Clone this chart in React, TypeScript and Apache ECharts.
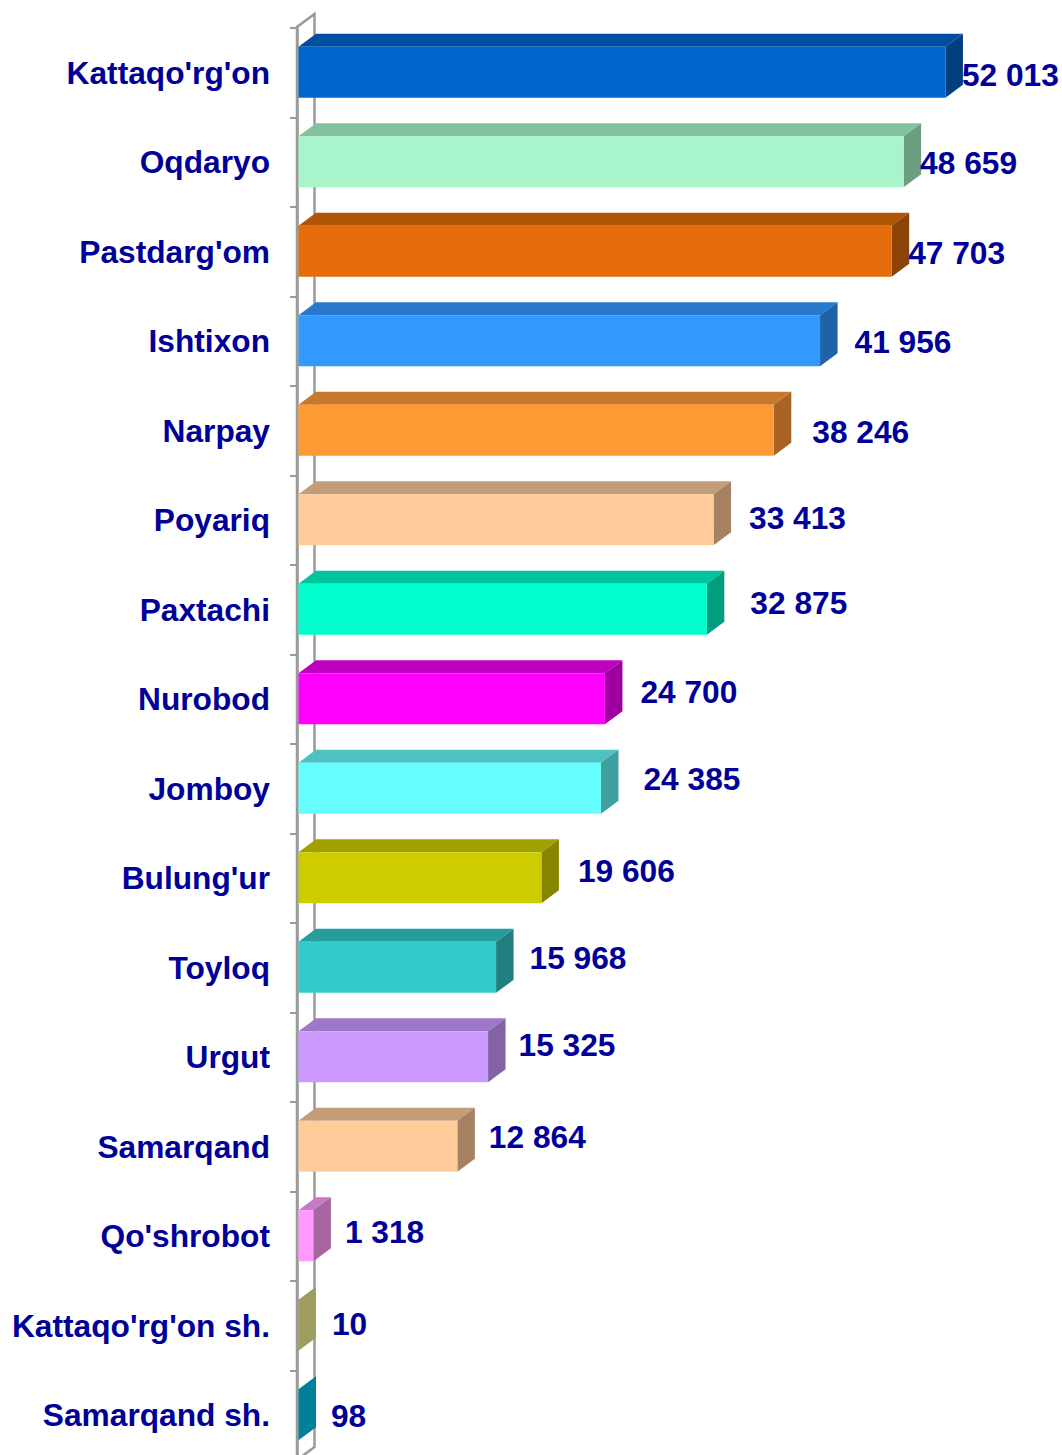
import React, { useEffect, useRef } from "react";
import * as echarts from "echarts";

const categories = [
  "Kattaqo'rg'on", "Oqdaryo", "Pastdarg'om", "Ishtixon", "Narpay", "Poyariq", "Paxtachi", "Nurobod",
  "Jomboy", "Bulung'ur", "Toyloq", "Urgut", "Samarqand", "Qo'shrobot", "Kattaqo'rg'on sh.", "Samarqand sh.",
];
const values = [52013, 48659, 47703, 41956, 38246, 33413, 32875, 24700, 24385, 19606, 15968, 15325, 12864, 1318, 10, 98];

const frontColors = [
  "#0066CC", "#A8F5CB", "#E46C0A", "#3399FF", "#FF9933", "#FFCC99", "#00FFCC", "#FF00FF",
  "#66FFFF", "#CCCC00", "#33CCCC", "#CC99FF", "#FFCC99", "#FF99FF", "#CCCC80", "#00A0C0",
];
const topColors = [
  "#004FA0", "#82C29E", "#B05508", "#2878CC", "#C8782A", "#C29D78", "#00C49E", "#C000C0",
  "#4EC2C2", "#A0A000", "#279C9C", "#9E78C8", "#C29D78", "#C878C8", "#A8A86C", "#008CA8",
];
const sideColors = [
  "#004080", "#6E9E80", "#8C4306", "#2062A8", "#A86424", "#A68262", "#009E7E", "#A000A0",
  "#40A0A0", "#858500", "#208080", "#8264A6", "#A68262", "#A866A0", "#9E9E60", "#00809A",
];
// per-label placement nudges [dx, dy] (layout only)
const labelNudge = [
  [-1, 2], [-1, 1], [-1, 1], [17, 1], [21, 1], [18, -2], [26, -7], [18, -7],
  [25, -10], [19, -7], [16, -10], [13, -12], [14, -10], [14, -4], [16, -2], [15, 1],
];

const GRID_LEFT = 297;
const GRID_TOP = 28;
const GRID_W = 748;
const GRID_H = 1432;
const DX = 17.5;
const DY = 13;
const TEXT_COLOR = "#000099";
const FONT = "Liberation Sans, Arial, sans-serif";
const FONT_SIZE = 31.7;

const fmt = (v: number) => String(v).replace(/\B(?=(\d{3})+(?!\d))/g, " ");

export default function App() {
  const ref = useRef<HTMLDivElement>(null);
  useEffect(() => {
    if (!ref.current) return;
    const chart = echarts.init(ref.current, null, { renderer: "svg" });
    chart.setOption({
      animation: false,
      backgroundColor: "#ffffff",
      grid: { left: GRID_LEFT, top: GRID_TOP, width: GRID_W, height: GRID_H, outerBoundsMode: "none" },
      xAxis: { type: "value", min: 0, max: 60000, show: false },
      yAxis: {
        type: "category",
        data: categories,
        inverse: true,
        axisLine: { show: true, lineStyle: { color: "#9A9A9A", width: 2.5 } },
        axisTick: { show: true, length: 7, lineStyle: { color: "#9A9A9A", width: 2 } },
        axisLabel: {
          margin: 27,
          color: TEXT_COLOR,
          fontSize: FONT_SIZE,
          fontWeight: "bold",
          fontFamily: FONT,
        },
        splitLine: { show: false },
      },
      graphic: [
        {
          type: "polyline",
          z: 0,
          shape: {
            points: [
              [GRID_LEFT, GRID_TOP + GRID_H],
              [GRID_LEFT, GRID_TOP - 1],
              [GRID_LEFT + DX, GRID_TOP - 1 - DY],
              [GRID_LEFT + DX, GRID_TOP + GRID_H - DY],
              [GRID_LEFT, GRID_TOP + GRID_H],
            ],
          },
          style: { stroke: "#9A9A9A", lineWidth: 2.5, fill: "none" },
        },
      ],
      series: [
        {
          type: "custom",
          z: 10,
          data: values.map((v, i) => [v, i]),
          encode: { x: 0, y: 1 },
          renderItem: (params: any, api: any) => {
            const i = params.dataIndex;
            const v = api.value(0);
            const c0 = api.coord([0, i]);
            const c1 = api.coord([v, i]);
            const x0 = c0[0] + 1.5;
            const x1 = Math.max(c1[0], x0);
            const yc = c0[1];
            const yt = yc - 26;
            const yb = yc + 25;
            const n = labelNudge[i];
            return {
              type: "group",
              children: [
                {
                  type: "polygon",
                  shape: { points: [[x0, yt], [x1, yt], [x1 + DX, yt - DY], [x0 + DX, yt - DY]] },
                  style: { fill: topColors[i] },
                },
                {
                  type: "polygon",
                  shape: { points: [[x1, yt], [x1 + DX, yt - DY], [x1 + DX, yb - DY], [x1, yb]] },
                  style: { fill: sideColors[i] },
                },
                {
                  type: "rect",
                  shape: { x: x0, y: yt, width: x1 - x0, height: yb - yt },
                  style: { fill: frontColors[i] },
                },
                {
                  type: "text",
                  x: x1 + DX + n[0],
                  y: yc + n[1],
                  style: {
                    text: fmt(v),
                    fill: TEXT_COLOR,
                    font: `bold ${FONT_SIZE}px ${FONT}`,
                    align: "left",
                    verticalAlign: "middle",
                  },
                },
              ],
            };
          },
        },
      ],
    });
    return () => chart.dispose();
  }, []);
  return (
    <div
      ref={ref}
      style={{ position: "fixed", left: 0, top: 0, width: 1062, height: 1455, background: "#fff" }}
    />
  );
}
